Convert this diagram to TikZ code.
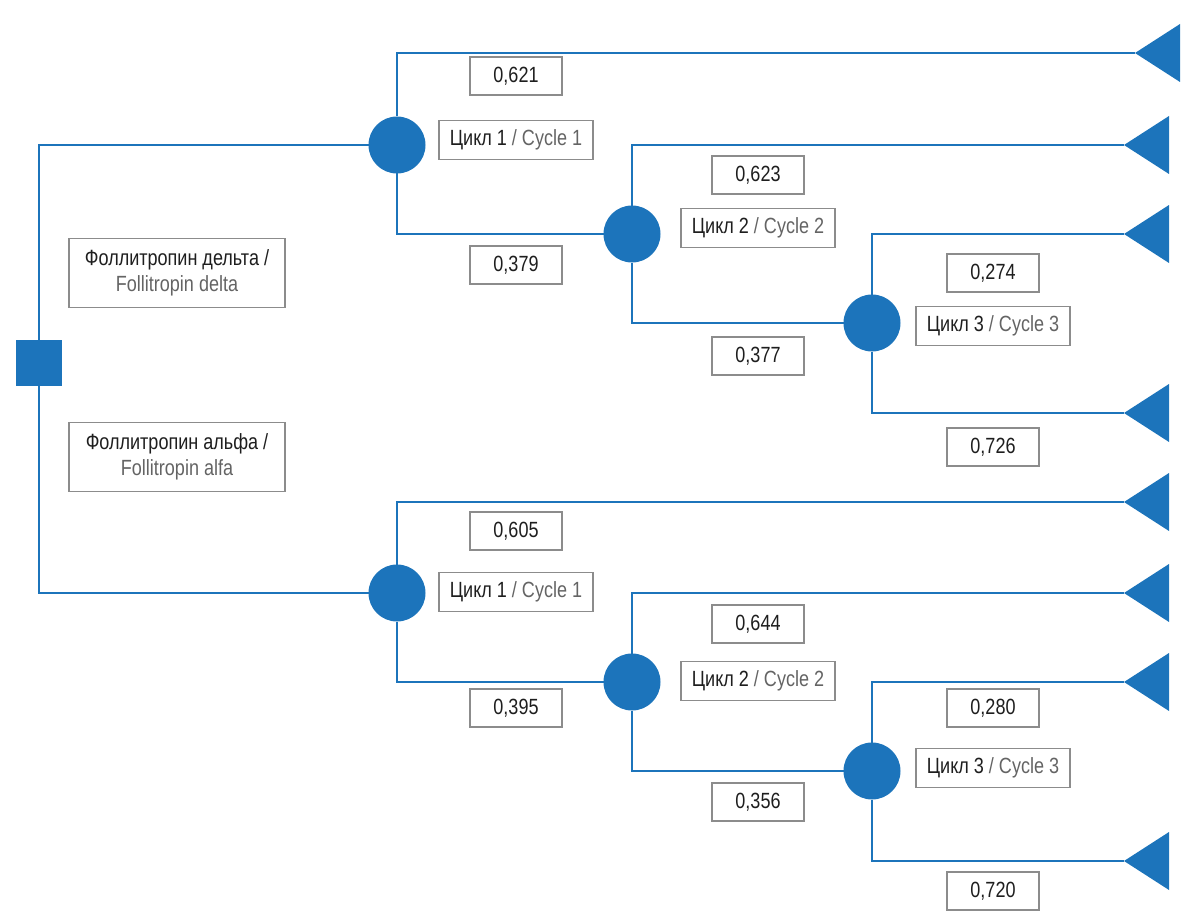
\documentclass[tikz,border=0pt]{standalone}
\usepackage{fontspec}
\setmainfont{Liberation Sans}[FakeStretch=0.82]
\usetikzlibrary{shapes.geometric}
\definecolor{treeblue}{RGB}{28,116,187}
\definecolor{boxgray}{RGB}{140,140,140}
\definecolor{engray}{RGB}{100,100,100}
\definecolor{rutext}{RGB}{30,30,30}
\newcommand{\en}[1]{\textcolor{engray}{#1}}

\begin{document}
\begin{tikzpicture}[x=1pt,y=-1pt,
    branch/.style={draw=treeblue,line width=2.6pt},
    chance/.style={circle,fill=treeblue,minimum size=57pt,inner sep=0pt,outer sep=0pt},
    decision/.style={rectangle,fill=treeblue,minimum size=46pt,inner sep=0pt,outer sep=0pt},
    outcome/.style={isosceles triangle,isosceles triangle stretches,shape border rotate=180,
      fill=treeblue,minimum width=58pt,minimum height=45pt,inner sep=0pt,outer sep=0pt,anchor=apex},
    prob/.style={draw=boxgray,line width=1.2pt,minimum width=92pt,minimum height=38pt,inner sep=0pt,
      text=rutext,font=\fontsize{22}{26}\selectfont},
    cycle/.style={prob,minimum width=154pt,minimum height=39pt},
    arm/.style={prob,minimum width=216pt,minimum height=69pt,align=center}]
  \useasboundingbox (0,0) rectangle (1200,923);

  % decision node and the two arms
  \node[decision] (D) at (39,363) {};
  \node[arm] (delta) at (177,273) {Фоллитропин дельта /\\\en{Follitropin delta}};
  \node[arm] (alfa) at (177,457) {Фоллитропин альфа /\\\en{Follitropin alfa}};

  % follitropin delta
  \node[chance] (c1) at (397,145) {};
  \node[chance] (c2) at (632,234) {};
  \node[chance] (c3) at (872,323) {};
  \node[outcome] (t1) at (1135,53) {};
  \node[outcome] (t2) at (1124,145) {};
  \node[outcome] (t3) at (1124,234) {};
  \node[outcome] (t4) at (1124,413) {};

  % follitropin alfa
  \node[chance] (c4) at (397,593) {};
  \node[chance] (c5) at (632,682) {};
  \node[chance] (c6) at (872,771) {};
  \node[outcome] (t5) at (1124,502) {};
  \node[outcome] (t6) at (1124,593) {};
  \node[outcome] (t7) at (1124,682) {};
  \node[outcome] (t8) at (1124,861) {};

  \path[branch] (c1) -| (D) |- (c4);
  \path[branch] (t1.apex) -| (c1) |- (c2);
  \path[branch] (t2.apex) -| (c2) |- (c3);
  \path[branch] (t3.apex) -| (c3) |- (t4.apex);
  \path[branch] (t5.apex) -| (c4) |- (c5);
  \path[branch] (t6.apex) -| (c5) |- (c6);
  \path[branch] (t7.apex) -| (c6) |- (t8.apex);

  % probabilities and cycles
  \node[prob] (p1) at (516,76) {0,621};
  \node[cycle] (k1) at (516,140) {Цикл 1 \en{/ Cycle 1}};
  \node[prob] (p2) at (516,265) {0,379};
  \node[prob] (p3) at (758,175) {0,623};
  \node[cycle] (k2) at (758,228) {Цикл 2 \en{/ Cycle 2}};
  \node[prob] (p4) at (758,356) {0,377};
  \node[prob] (p5) at (993,273) {0,274};
  \node[cycle] (k3) at (993,326) {Цикл 3 \en{/ Cycle 3}};
  \node[prob] (p6) at (993,447) {0,726};

  \node[prob] (p7) at (516,531) {0,605};
  \node[cycle] (k4) at (516,592) {Цикл 1 \en{/ Cycle 1}};
  \node[prob] (p8) at (516,708) {0,395};
  \node[prob] (p9) at (758,624) {0,644};
  \node[cycle] (k5) at (758,681) {Цикл 2 \en{/ Cycle 2}};
  \node[prob] (p10) at (758,802) {0,356};
  \node[prob] (p11) at (993,708) {0,280};
  \node[cycle] (k6) at (993,768) {Цикл 3 \en{/ Cycle 3}};
  \node[prob] (p12) at (993,891) {0,720};
\end{tikzpicture}
\end{document}
